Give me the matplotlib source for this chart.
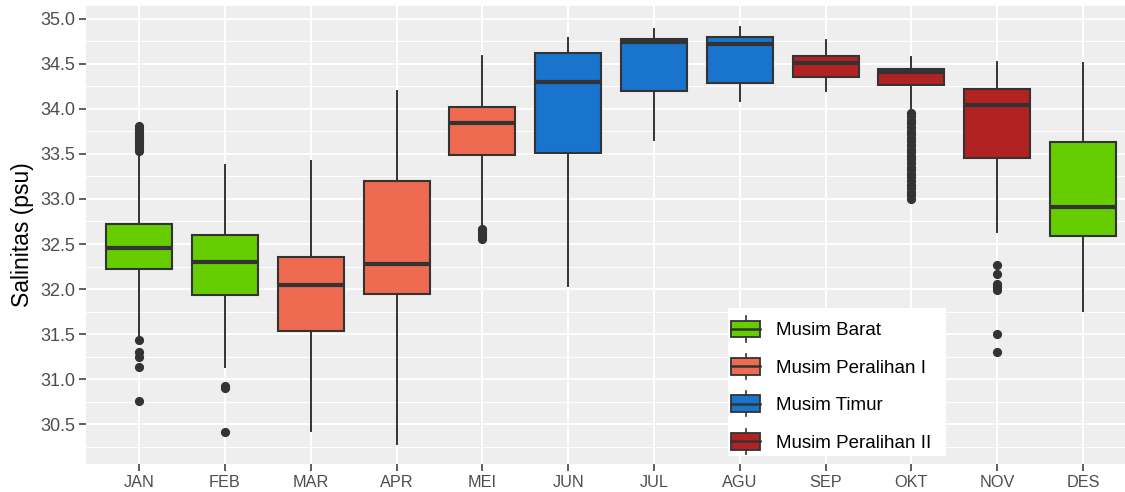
import matplotlib
matplotlib.use("Agg")
import matplotlib.pyplot as plt
from matplotlib.patches import Rectangle
from matplotlib.lines import Line2D
from matplotlib.legend_handler import HandlerBase

plt.rcParams['font.family'] = ['Liberation Sans', 'DejaVu Sans']

# Monthly salinity summaries (psu)
months = ["JAN", "FEB", "MAR", "APR", "MEI", "JUN", "JUL", "AGU", "SEP", "OKT", "NOV", "DES"]
season = ["Musim Barat", "Musim Barat", "Musim Peralihan I", "Musim Peralihan I",
          "Musim Peralihan I", "Musim Timur", "Musim Timur", "Musim Timur",
          "Musim Peralihan II", "Musim Peralihan II", "Musim Peralihan II", "Musim Barat"]
whisker_low = [31.49, 31.13, 30.42, 30.28, 32.71, 32.03, 33.66, 34.09, 34.20, 34.01, 32.63, 31.76]
q1 =          [32.22, 31.93, 31.53, 31.95, 33.49, 33.51, 34.20, 34.29, 34.36, 34.27, 33.46, 32.59]
median =      [32.46, 32.30, 32.05, 32.28, 33.84, 34.30, 34.74, 34.72, 34.51, 34.41, 34.04, 32.91]
q3 =          [32.72, 32.60, 32.36, 33.20, 34.02, 34.62, 34.78, 34.80, 34.59, 34.44, 34.22, 33.63]
whisker_high = [33.49, 33.38, 33.42, 34.20, 34.59, 34.79, 34.89, 34.91, 34.77, 34.58, 34.52, 34.51]
outliers = {
    "JAN": [33.53, 33.56, 33.59, 33.62, 33.64, 33.67, 33.70, 33.73, 33.76, 33.79, 33.81,
            31.43, 31.30, 31.24, 31.13, 30.76],
    "FEB": [30.90, 30.92, 30.41],
    "MEI": [32.56, 32.59, 32.62, 32.65, 32.67],
    "OKT": [33.96, 33.92, 33.88, 33.84, 33.80, 33.76, 33.72, 33.68, 33.64, 33.60,
            33.56, 33.52, 33.48, 33.44, 33.40, 33.36, 33.32, 33.28, 33.24, 33.20,
            33.16, 33.12, 33.08, 33.04, 33.00],
    "NOV": [32.27, 32.17, 32.06, 32.02, 31.99, 31.50, 31.30],
}
season_names = ["Musim Barat", "Musim Peralihan I", "Musim Timur", "Musim Peralihan II"]
season_colors = ["#66CD00", "#EE6A50", "#1874CD", "#B22222"]
yticks = [30.5, 31.0, 31.5, 32.0, 32.5, 33.0, 33.5, 34.0, 34.5, 35.0]

color_of = dict(zip(season_names, season_colors))
edge = "#333333"

fig = plt.figure(figsize=(11.25, 4.92), dpi=100)
ax = fig.add_axes([86 / 1125, 28 / 492, 1 - 86 / 1125, 458 / 492])
ax.set_facecolor("#EEEEEE")

# grid: minor y lines between the major ones
minor = [30.25] + [v + 0.25 for v in yticks]
for v in minor:
    ax.axhline(v, color="white", lw=0.7, zorder=0.5)
for v in yticks:
    ax.axhline(v, color="white", lw=1.4, zorder=0.6)
positions = list(range(1, len(months) + 1))
for p in positions:
    ax.axvline(p, color="white", lw=1.4, zorder=0.6)

stats = []
for i, m in enumerate(months):
    stats.append(dict(label=m, whislo=whisker_low[i], q1=q1[i], med=median[i],
                      q3=q3[i], whishi=whisker_high[i], fliers=outliers.get(m, [])))

bp = ax.bxp(stats, positions=positions, widths=0.77, patch_artist=True,
            showcaps=False,
            boxprops=dict(edgecolor=edge, linewidth=1.5),
            medianprops=dict(color=edge, linewidth=3.0, solid_capstyle="butt"),
            whiskerprops=dict(color=edge, linewidth=1.4),
            flierprops=dict(marker="o", markerfacecolor=edge, markeredgecolor=edge,
                            markersize=5.6, linestyle="none"),
            zorder=2)
for patch, s in zip(bp["boxes"], season):
    patch.set_facecolor(color_of[s])

ax.set_xlim(0.38, 12.49)
ax.set_ylim(30.056, 35.144)
ax.set_yticks(yticks)
ax.set_yticklabels([f"{v:.1f}" for v in yticks])
ax.set_xticks(positions)
ax.set_xticklabels(months)
ax.tick_params(axis="y", colors="#333333", length=5, width=1.1, labelsize=13,
               labelcolor="#4D4D4D", pad=3)
ax.tick_params(axis="x", colors="#333333", length=5, width=1.1, labelsize=11.7,
               labelcolor="#4D4D4D", pad=3)
for sp in ax.spines.values():
    sp.set_visible(False)
ax.set_ylabel("Salinitas (psu)", fontsize=16.5, color="black", labelpad=4)


class BoxKey(HandlerBase):
    def create_artists(self, legend, orig_handle, xdescent, ydescent, width, height,
                       fontsize, trans):
        fc = orig_handle.get_facecolor()
        cx = -xdescent + width / 2
        y0 = -ydescent
        stub = height * 0.25
        rect = Rectangle((-xdescent, y0), width, height, facecolor=fc,
                         edgecolor=edge, linewidth=1.3, transform=trans)
        med = Line2D([-xdescent, -xdescent + width], [y0 + height / 2] * 2,
                     color=edge, linewidth=1.8, transform=trans)
        top = Line2D([cx, cx], [y0 + height, y0 + height + stub], color=edge,
                     linewidth=1.2, transform=trans)
        bot = Line2D([cx, cx], [y0 - stub, y0], color=edge, linewidth=1.2,
                     transform=trans)
        return [top, bot, rect, med]


# white legend panel
ax.add_patch(Rectangle((0.6179, 0.0175), 0.2098, 0.3231, transform=ax.transAxes,
                       facecolor="white", edgecolor="none", zorder=4))

handles = [Rectangle((0, 0), 1, 1, facecolor=c) for c in season_colors]
leg = ax.legend(handles, season_names, handler_map={Rectangle: BoxKey()},
                loc="upper left", bbox_to_anchor=(0.6208, 0.313),
                borderaxespad=0, fontsize=13.5, frameon=False,
                handlelength=1.55, handleheight=1.0, handletextpad=0.85,
                labelspacing=0.99, borderpad=0)
leg.set_zorder(5)

fig.savefig("out.png", dpi=100, facecolor="white")
